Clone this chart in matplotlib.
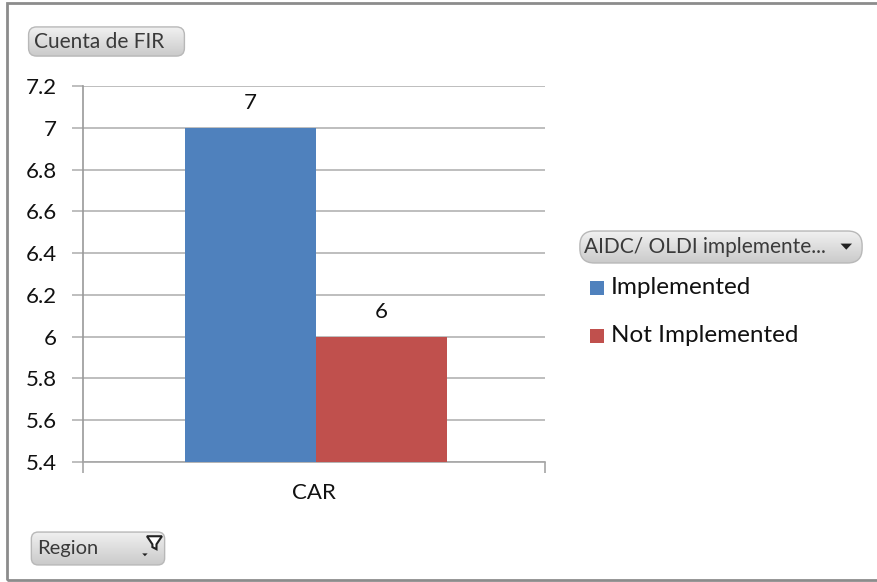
import matplotlib
matplotlib.use("Agg")
import matplotlib.pyplot as plt
import numpy as np
from matplotlib.patches import FancyBboxPatch, Rectangle, Polygon
from matplotlib.colors import LinearSegmentedColormap

categories = ["CAR"]
series_names = ["Implemented", "Not Implemented"]
series_values = [[7], [6]]
series_colors = ["#4F81BD", "#C0504D"]
yticks = [5.4, 5.6, 5.8, 6.0, 6.2, 6.4, 6.6, 6.8, 7.0, 7.2]
ytick_labels = ["5.4", "5.6", "5.8", "6", "6.2", "6.4", "6.6", "6.8", "7", "7.2"]

FONT = ["Lato", "DejaVu Sans"]
plt.rcParams['font.family'] = FONT

W, H = 877, 582
fig = plt.figure(figsize=(W / 100, H / 100), dpi=100)
fig.patch.set_facecolor("white")

def fx(px):
    return px / W

def fy(py):
    return 1 - py / H

# outer border
fig.add_artist(Rectangle((fx(7), fy(580)), fx(880) - fx(7), fy(3) - fy(580),
                         transform=fig.transFigure, fill=False,
                         edgecolor="#8c8c8c", linewidth=2, clip_on=False))

ax = fig.add_axes([fx(83), fy(462), fx(545) - fx(83), fy(86) - fy(462)])
ax.set_xlim(-0.5, 0.5)
ax.set_ylim(5.4, 7.2)

n = len(series_names)
width = 0.284
x = np.arange(len(categories))
for i, (name, vals, col) in enumerate(zip(series_names, series_values, series_colors)):
    offs = (i - (n - 1) / 2) * width + 0.004
    bars = ax.bar(x + offs, vals, width=width, color=col, zorder=3, label=name)
    for b, v in zip(bars, vals):
        ax.text(b.get_x() + b.get_width() / 2, v + 0.07, f"{v:g}",
                ha="center", va="bottom", fontsize=16, color="#111111")

ax.set_yticks(yticks)
ax.set_yticklabels(ytick_labels)
ax.yaxis.grid(True, color="#b3b3b3", linewidth=1.2, zorder=0)
ax.set_axisbelow(True)
ax.tick_params(axis="y", length=8, width=1.2, color="#b3b3b3", labelsize=16,
               labelcolor="#111111", pad=11)
ax.set_xticks([-0.5, 0.5])
ax.set_xticklabels(["", ""])
ax.tick_params(axis="x", length=8, width=1.2, color="#a6a6a6")
ax.text(0, 5.4 - 0.1, categories[0], transform=ax.transData, ha="center", va="top",
        fontsize=16, color="#111111")
for s in ["top", "right"]:
    ax.spines[s].set_visible(False)
ax.spines["left"].set_color("#999999")
ax.spines["bottom"].set_color("#a6a6a6")
ax.spines["left"].set_linewidth(1.2)
ax.spines["bottom"].set_linewidth(1.2)


def button(x0, y0, x1, y1, label, fontsize=12):
    bax = fig.add_axes([fx(x0), fy(y1), fx(x1) - fx(x0), fy(y0) - fy(y1)])
    bax.set_xlim(0, 1)
    bax.set_ylim(0, 1)
    bax.axis("off")
    grad = np.linspace(0, 1, 64).reshape(-1, 1)
    cmap = LinearSegmentedColormap.from_list("g", ["#f2f2f2", "#c9c9c9"])
    im = bax.imshow(grad, extent=[0, 1, 0, 1], aspect="auto", cmap=cmap, origin="upper")
    patch = FancyBboxPatch((0.01, 0.03), 0.98, 0.94,
                           boxstyle="round,pad=0,rounding_size=0.05",
                           mutation_aspect=(x1 - x0) / (y1 - y0),
                           facecolor="none", edgecolor="#b8b8b8", linewidth=1)
    bax.add_patch(patch)
    im.set_clip_path(patch)
    bax.text(7 / (x1 - x0), 0.5, label, ha="left", va="center", fontsize=fontsize,
             color="#3a3a3a")
    return bax

button(27, 26, 186, 57, "Cuenta de FIR", 15)
bl = button(577, 230, 865, 264, "AIDC/ OLDI implemente...", 15)
bl.add_patch(Polygon([[0.915, 0.60], [0.955, 0.60], [0.935, 0.42]], closed=True,
                     facecolor="#222222", edgecolor="none"))
br = button(30, 531, 166, 566, "Region", 14.5)
br.add_patch(Polygon([[0.825, 0.36], [0.865, 0.36], [0.845, 0.28]], closed=True,
                     facecolor="#222222", edgecolor="none"))
br.add_patch(Polygon([[0.86, 0.85], [0.97, 0.85], [0.93, 0.62], [0.93, 0.48],
                      [0.90, 0.54], [0.90, 0.62]], closed=True,
                     facecolor="white", edgecolor="#222222", linewidth=1.5))

# legend entries
leg_y = [288, 336]
for name, col, yy in zip(series_names, series_colors, leg_y):
    fig.add_artist(Rectangle((fx(590), fy(yy + 7)), fx(604) - fx(590), fy(yy - 7) - fy(yy + 7),
                             transform=fig.transFigure, facecolor=col, edgecolor="none"))
    fig.text(fx(611), fy(yy), name, ha="left", va="center", fontsize=17.5, color="#111111")

fig.savefig("out.png", dpi=100, facecolor="white")
